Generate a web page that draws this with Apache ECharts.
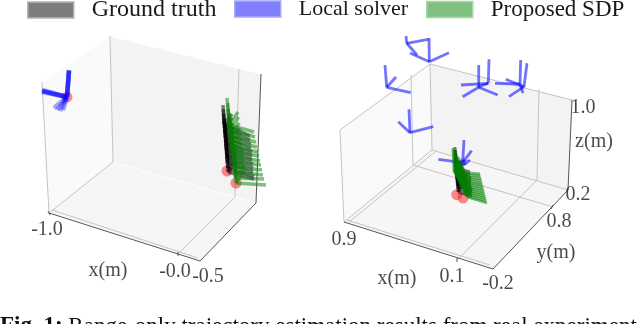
<!DOCTYPE html>
<html><head><meta charset="utf-8">
<style>html,body{margin:0;padding:0;background:#fff;overflow:hidden}#c{width:638px;height:324px}</style>
<script src="https://cdn.jsdelivr.net/npm/echarts@6/dist/echarts.min.js"></script></head>
<body><div id="c"></div>
<script>
const seriesNames = ['Ground truth', 'Local solver', 'Proposed SDP'];
const caption = 'Range-only trajectory estimation results from real experiment';

// Panes: four corners x,y
const leftPanes = [[49,213,113,162,110,36,42,82],[113,162,256,203,261,74,110,36],[49,213,200,261,256,203,113,162]];
const rightPanes = [[344,222,432,150,430,64,340,130],[432,150,568,190,572,100,430,64],[344,222,493,269,568,190,432,150]];
// Light grid and pane edges
const leftGrid = [[42,82,49,213],[110,36,113,162],[49,213,113,162],[239,69,235,197],[235,197,178,254],[52,210,198,258]];
const rightGrid = [[340,130,344,222],[430,64,432,150],[340,130,430,64],[430,64,572,100],[344,222,432,150],[349,222,436,151],
  [432,150,568,190],[411,75,413,165],[413,165,553,207],[539,89,537,180],[537,180,457,260],[347,220,490,265]];
const leftPaneWhite = [[110,36,261,74],[113,162,256,203],[42,82,110,36]];
// Dark axis lines and ticks
const leftAxes = [[49,213,200,261],[200,261,256,203],[256,203,261,74],[178,252,178,256],[48,211,50,215]];
const rightAxes = [[344,222,493,269],[493,269,568,190],[568,190,572,100],[457,258,457,262],[553,205,551,209]];

// Poses: origin x,y then three axis tips x,y
const leftTruth = [
 [224,124,223,105,250,136,232,114],[224.4,128,223.4,109,250,140,232.4,118],[224.8,133,223.8,114,251,144,232.8,123],
 [225.2,137,224.2,118,251,148,233.2,127],[225.6,142,224.6,123,252,152,233.6,132],[226,146,225,127,252,156,234,136],
 [226.3,150,225.3,131,252,160,234.3,140],[226.7,155,225.7,136,253,164,234.7,145],[227,159,226,140,253,168,235,149],
 [227.3,163,226.3,144,253,172,235.3,153],[227.7,168,226.7,149,254,176,235.7,158],[228,172,227,153,254,179,236,162]];
const leftLocal = [
 [67,97,69,70,42,91,54,108],[67,97,69,71,42,90,57,110],[67,97,69,70,42,92,60,111],[67,97,69,71,43,91,63,110]];
const leftProposed = [
 [229,125,227,98,254,132,238,112],[229.7,130,227.7,103,255,137,238.7,117],[230.3,136,228.3,109,256,142,239.3,123],
 [231,141,229,114,257,147,240,128],[231.6,146,229.6,119,258,152,240.6,133],[232.3,151,230.3,124,259,156,241.3,138],
 [232.9,156,230.9,129,260,161,241.9,143],[233.5,162,231.5,135,261,165,242.5,149],[234.2,167,232.2,140,262,170,243.2,154],
 [234.8,172,232.8,145,263,175,243.8,159],[235.4,178,233.4,151,264,179,244.4,165],[236,183,234,156,266,185,245,170]];
const rightTruth = [
 [456,168,455,147,470,172,462,160],[456.3,171,455.3,150,470,175,462.3,163],[456.5,174,455.5,153,471,178,462.5,166],
 [456.8,177,455.8,156,471,181,462.8,169],[457,180,456,159,471,184,463,172],[457.3,183,456.3,162,471,187,463.3,175],
 [457.5,186,456.5,165,472,190,463.5,178],[457.8,189,456.8,168,472,193,463.8,181],[458,192,457,171,472,196,464,184]];
const rightLocal = [
 [429.3,61.7,429,38,449,52.7,410,53],[406.7,43.3,406,36,428.3,39.3,417,55],[386.7,87.3,385,65,396,77,410.7,92.7],
 [410,132.7,409,109.3,398.3,121.7,433.3,126.7],[478.7,87.3,478.7,65,497.7,95,462.7,96.7],[488.3,83.3,489,59.3,461,85,478,87],
 [524,86.7,527,63.3,505.7,79.3,509,96.7],[520,84,520.7,60,495,83.3,523,93],[462.7,162.7,464,140,471.7,150.7,438.3,159.3],
 [464,165,465,160,455,163,470,160]];
const rightProposed = [
 [454,172,453,148,480,174,459,163],[455,173.9,454,149.9,480.5,176.2,460,164.9],[456,175.8,455,151.8,481.1,178.5,461,166.8],
 [457,177.8,456,153.8,481.6,180.7,462,168.8],[458,179.7,457,155.7,482.2,182.9,463,170.7],[459,181.6,458,157.6,482.7,185.2,464,172.6],
 [460,183.5,459,159.5,483.2,187.4,465,174.5],[461,185.5,460,161.5,483.8,189.6,466,176.5],[462,187.4,461,163.4,484.3,191.8,467,178.4],
 [463,189.3,462,165.3,484.8,194.1,468,180.3],[464,191.2,463,167.2,485.4,196.3,469,182.2],[465,193.2,464,169.2,485.9,198.5,470,184.2],
 [466,195.1,465,171.1,486.5,200.8,471,186.1],[467,197,466,173,487,203,472,188]];
// Trajectory start markers
const leftStarts = [[67,97],[227,171],[236,183]];
const rightStarts = [[456.7,194.7],[463,198]];
// Tick and axis labels: x, y, text
const leftLabels = [[47,230,'-1.0'],[108,271,'x(m)'],[175,272,'-0.0'],[208,277,'-0.5']];
const rightLabels = [[344,240,'0.9'],[397,279,'x(m)'],[452,277,'0.1'],[498,284,'-0.2'],[559,222,'0.8'],[556,253,'y(m)'],
  [578,195,'0.2'],[583,108,'1.0'],[594,142,'z(m)']];

const SERIF = '"Liberation Serif","Times New Roman",serif';
const TEXT = '#1a1a1a';
const BLACK = '#000', BLUE = '#0000ff', GREEN = '#008000';

const toSegments = poses => poses.flatMap(p => [[p[0],p[1],p[2],p[3]],[p[0],p[1],p[4],p[5]],[p[0],p[1],p[6],p[7]]]);
const lineSeries = (name, rows, idx, stroke, width, opacity, z) => ({
  name, type: 'custom', xAxisIndex: idx, yAxisIndex: idx, coordinateSystem: 'cartesian2d', silent: true, z,
  data: rows, clip: false,
  renderItem: (params, api) => {
    const a = api.coord([api.value(0), api.value(1)]), b = api.coord([api.value(2), api.value(3)]);
    return {type: 'line', shape: {x1: a[0], y1: a[1], x2: b[0], y2: b[1]}, style: {stroke, lineWidth: width, opacity}};
  }
});
const paneSeries = (rows, idx) => ({
  type: 'custom', xAxisIndex: idx, yAxisIndex: idx, silent: true, z: 1, data: rows,
  renderItem: (params, api) => {
    const pts = [0,2,4,6].map(i => api.coord([api.value(i), api.value(i+1)]));
    const fill = ['#fafafa', '#f3f3f3', '#f6f6f6'][params.dataIndex];
    return {type: 'polygon', shape: {points: pts}, style: {fill}};
  }
});
const startSeries = (rows, idx) => ({
  type: 'scatter', xAxisIndex: idx, yAxisIndex: idx, silent: true, z: 3, data: rows,
  symbolSize: 11, itemStyle: {color: '#ff0000', opacity: 0.45}
});
const labelSeries = (rows, idx) => ({
  type: 'scatter', xAxisIndex: idx, yAxisIndex: idx, silent: true, z: 10, data: rows, symbolSize: 0,
  label: {show: true, position: 'inside', formatter: p => p.value[2], color: TEXT, fontFamily: SERIF, fontSize: 20}
});
const legendAt = (i, left, color, borderColor, size) => ({
  left, top: -7, itemWidth: 46, itemHeight: 16, padding: 5, selectedMode: false, icon: 'rect',
  data: [{name: seriesNames[i], itemStyle: {color, borderColor, borderWidth: 1.5}}],
  formatter: '{a|{name}}',
  textStyle: {color: TEXT, fontFamily: SERIF, fontSize: size, rich: {a: {fontFamily: SERIF, fontSize: size, color: TEXT, padding: [0,0,0,13]}}}
});

const option = {
  animation: false,
  backgroundColor: '#fff',
  title: {left: 0, top: 315, padding: 0, text: '{b|Fig. 1:} ' + caption,
    textStyle: {fontFamily: SERIF, fontSize: 23, fontWeight: 'normal', color: '#111', rich: {b: {fontFamily: SERIF, fontSize: 23, fontWeight: 'bold', color: '#111'}}}},
  legend: [legendAt(0, 22, '#7d7d7d', '#b4b4b4', 24), legendAt(1, 229, '#8080ff', '#a8a8ff', 22), legendAt(2, 421, '#80c080', '#a8d8a8', 23)],
  grid: [{left: 0, top: 0, width: 320, height: 324}, {left: 320, top: 0, width: 318, height: 324}],
  xAxis: [{type: 'value', gridIndex: 0, min: 0, max: 320, show: false}, {type: 'value', gridIndex: 1, min: 320, max: 638, show: false}],
  yAxis: [{type: 'value', gridIndex: 0, min: 0, max: 324, inverse: true, show: false}, {type: 'value', gridIndex: 1, min: 0, max: 324, inverse: true, show: false}],
  series: [
    paneSeries(leftPanes, 0), paneSeries(rightPanes, 1),
    lineSeries('', leftPaneWhite, 0, '#ffffff', 1, 0.9, 2),
    lineSeries('', leftGrid, 0, '#c4c4c4', 1, 1, 2), lineSeries('', rightGrid, 1, '#c4c4c4', 1, 1, 2),
    lineSeries('', leftAxes, 0, '#444', 0.9, 1, 2), lineSeries('', rightAxes, 1, '#444', 0.9, 1, 2),
    startSeries(leftStarts, 0), startSeries(rightStarts, 1),
    lineSeries(seriesNames[0], toSegments(leftTruth), 0, BLACK, 3.5, 0.5, 4),
    lineSeries(seriesNames[0], toSegments(rightTruth), 1, BLACK, 3, 0.5, 4),
    lineSeries(seriesNames[1], toSegments(leftLocal), 0, BLUE, 4.5, 0.35, 5),
    lineSeries(seriesNames[1], toSegments(rightLocal), 1, BLUE, 2.8, 0.55, 5),
    lineSeries(seriesNames[2], toSegments(leftProposed), 0, GREEN, 3.4, 0.5, 6),
    lineSeries(seriesNames[2], toSegments(rightProposed), 1, GREEN, 2.8, 0.55, 6),
    labelSeries(leftLabels, 0), labelSeries(rightLabels, 1)
  ]
};
echarts.init(document.getElementById('c'), null, {renderer: 'canvas'}).setOption(option);
</script></body></html>
